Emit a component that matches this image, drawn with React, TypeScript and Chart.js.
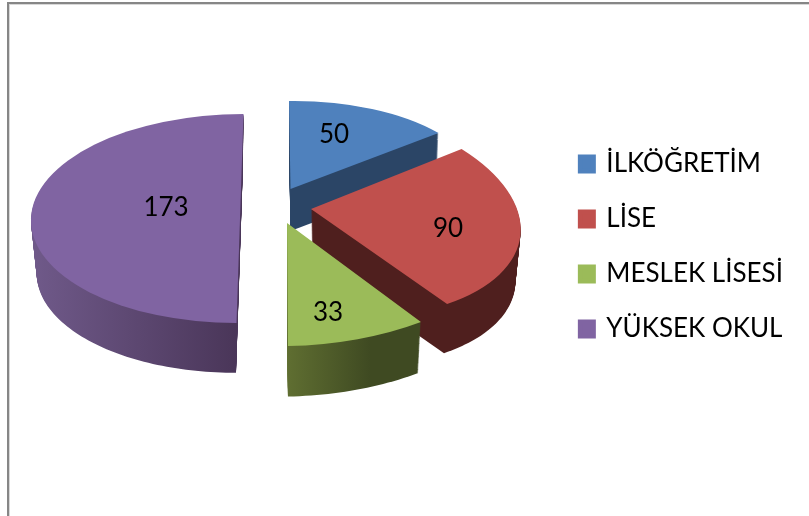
import React, { useEffect, useRef } from "react";
import { Chart, registerables } from "chart.js";

Chart.register(...registerables);

const categories = ["İLKÖĞRETİM", "LİSE", "MESLEK LİSESİ", "YÜKSEK OKUL"];
const values = [50, 90, 33, 173];
const topColors = ["#4f81bd", "#c0504d", "#9bbb59", "#8064a2"];

// Perspective of each exploded slice: apex on screen, unit-circle matrix, extrusion.
const slicePerspective = [
  { ax: 290.5, ay: 189, a: 189, b: 1.5, c: -2.3, d: 88, dx: 0, dy: 42, s: 0.99, wall: ["#2b4566", "#2b4566"], wx: [290, 440] },
  { ax: 311, ay: 209, a: 208.5, b: 22.4, c: 8.97, d: 108.9, dx: 1, dy: 52, s: 0.97, wall: ["#4f1f1e", "#4f1f1e"], wx: [310, 520] },
  { ax: 287, ay: 223, a: 236, b: 1, c: -4.6, d: 123, dx: 0, dy: 53, s: 0.98, wall: ["#5f6e31", "#3f4a22"], wx: [288, 370] },
  { ax: 240, ay: 218.5, a: 209, b: -3.5, c: 0, d: 104.5, dx: -0.6, dy: 53, s: 0.97, wall: ["#6f5989", "#4a3659"], wx: [35, 236] },
];
const labelPositions = [
  [334, 135],
  [448, 229],
  [328, 313],
  [166, 208],
];

const FONT = "Lato";

const pie3d = {
  id: "pie3d",
  beforeDraw(chart: any) {
    const { ctx } = chart;
    ctx.save();
    ctx.fillStyle = "#ffffff";
    ctx.fillRect(0, 0, 809, 516);
    ctx.fillStyle = "#d8d8d8";
    ctx.fillRect(9, 4, 800, 1);
    ctx.fillRect(9, 4, 1, 512);
    ctx.fillStyle = "#868686";
    ctx.fillRect(7, 2, 802, 2);
    ctx.fillRect(7, 2, 2, 514);
    ctx.restore();
  },
  beforeDatasetDraw(chart: any) {
    const { ctx } = chart;
    const arcs = chart.getDatasetMeta(0).data;
    arcs.forEach((arc: any, i: number) => {
      const p = slicePerspective[i];
      const { x, y, startAngle, endAngle, outerRadius } = arc.getProps(["x", "y", "startAngle", "endAngle", "outerRadius"]);
      // extruded wall: the slice outline stacked from the base up
      const n = Math.max(8, Math.ceil((endAngle - startAngle) * 40));
      const grad = ctx.createLinearGradient(p.wx[0], 0, p.wx[1], 0);
      grad.addColorStop(0, p.wall[0]);
      grad.addColorStop(1, p.wall[1]);
      ctx.save();
      ctx.fillStyle = grad;
      for (let k = Math.ceil(p.dy); k >= 1; k--) {
        const t = k / p.dy;
        const sc = 1 - t * (1 - p.s);
        const cx = p.ax + p.dx * t;
        const cy = p.ay + p.dy * t;
        ctx.beginPath();
        ctx.moveTo(cx, cy);
        for (let j = 0; j <= n; j++) {
          const ang = startAngle + ((endAngle - startAngle) * j) / n;
          const u = Math.cos(ang);
          const v = Math.sin(ang);
          ctx.lineTo(cx + sc * (p.a * u + p.b * v), cy + sc * (p.c * u + p.d * v));
        }
        ctx.closePath();
        ctx.fill();
      }
      ctx.restore();
      // top face: the library's own arc under the slice's projection
      ctx.save();
      ctx.translate(p.ax, p.ay);
      ctx.transform(p.a / outerRadius, p.c / outerRadius, p.b / outerRadius, p.d / outerRadius, 0, 0);
      ctx.translate(-x, -y);
      arc.draw(ctx);
      ctx.restore();
    });
    return false;
  },
  afterDatasetsDraw(chart: any) {
    const { ctx } = chart;
    ctx.save();
    ctx.font = `26px ${FONT}`;
    ctx.fillStyle = "#000000";
    ctx.textAlign = "center";
    ctx.textBaseline = "middle";
    values.forEach((v, i) => {
      ctx.fillText(String(v), labelPositions[i][0], labelPositions[i][1]);
    });
    ctx.restore();
  },
};

export default function App() {
  const ref = useRef<HTMLCanvasElement>(null);
  useEffect(() => {
    const chart = new Chart(ref.current as HTMLCanvasElement, {
      type: "pie",
      data: {
        labels: categories,
        datasets: [{ data: values, backgroundColor: topColors, borderWidth: 0 }],
      },
      plugins: [pie3d],
      options: {
        responsive: false,
        animation: false,
        layout: { padding: { top: 10, bottom: 33, left: 10, right: 16 } },
        plugins: {
          tooltip: { enabled: false },
          legend: {
            position: "right",
            labels: {
              color: "#000000",
              font: { family: FONT, size: 26 },
              boxWidth: 13,
              boxHeight: 14,
              padding: 29,
              generateLabels(chart: any) {
                return Chart.overrides.pie.plugins.legend.labels
                  .generateLabels(chart)
                  .map((item: any) => ({ ...item, lineWidth: 5, strokeStyle: item.fillStyle }));
              },
            },
          },
        },
      },
    } as any);
    return () => chart.destroy();
  }, []);
  return (
    <canvas
      ref={ref}
      width={809}
      height={516}
      style={{ position: "absolute", left: 0, top: 0, display: "block" }}
    />
  );
}
